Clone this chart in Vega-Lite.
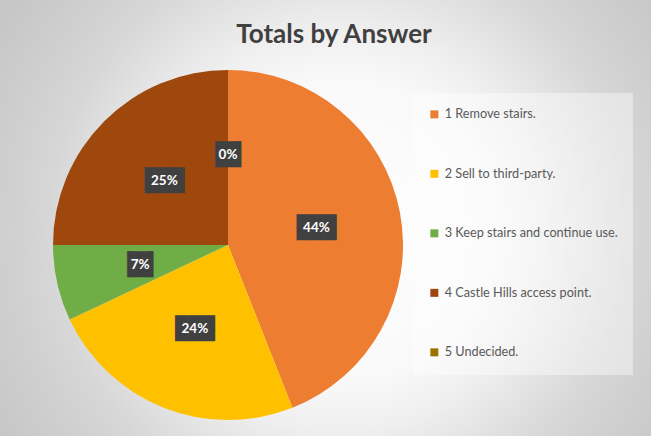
{
  "$schema": "https://vega.github.io/schema/vega-lite/v6.json",
  "width": 350,
  "height": 350,
  "autosize": "none",
  "padding": {"left": 53, "top": 70, "right": 248, "bottom": 16},
  "background": "#d2d2d2",
  "config": {"view": {"stroke": null}},
  "data": {
    "values": [
      {"answer": "1 Remove stairs.", "value": 0.44},
      {"answer": "2 Sell to third-party.", "value": 0.24},
      {"answer": "3 Keep stairs and continue use.", "value": 0.07},
      {"answer": "4 Castle Hills access point.", "value": 0.25},
      {"answer": "5 Undecided.", "value": 0.0}
    ]
  },
  "title": {
    "text": "Totals by Answer",
    "font": "Lato",
    "fontSize": 26,
    "fontWeight": "bold",
    "color": "#404040",
    "anchor": "middle",
    "frame": "group",
    "dx": 106,
    "offset": -324,
    "baseline": "alphabetic"
  },
  "layer": [
    {
      "mark": {
        "type": "arc",
        "outerRadius": 500,
        "theta": 0,
        "theta2": 6.2832,
        "fill": {
          "gradient": "radial",
          "x1": 0.612, "y1": 0.485, "r1": 0,
          "x2": 0.612, "y2": 0.485, "r2": 0.4,
          "stops": [
            {"offset": 0, "color": "#ffffff"},
            {"offset": 0.375, "color": "#f9f9f9"},
            {"offset": 0.5, "color": "#efefef"},
            {"offset": 0.725, "color": "#d7d7d7"},
            {"offset": 0.825, "color": "#d0d0d0"},
            {"offset": 1, "color": "#c6c6c6"}
          ]
        }
      },
      "encoding": {}
    },
    {
      "mark": {"type": "arc", "outerRadius": 175},
      "encoding": {
        "theta": {"field": "value", "type": "quantitative", "stack": true},
        "order": {"field": "answer", "type": "ordinal"},
        "color": {
          "field": "answer",
          "type": "nominal",
          "scale": {
            "domain": ["1 Remove stairs.", "2 Sell to third-party.", "3 Keep stairs and continue use.", "4 Castle Hills access point.", "5 Undecided."],
            "range": ["#ED7D31", "#FFC000", "#70AD47", "#9E480E", "#997300"]
          },
          "legend": {
            "orient": "none",
            "legendX": 360,
            "legendY": 23,
            "title": null,
            "symbolType": "square",
            "symbolSize": 64,
            "symbolStrokeWidth": 0,
            "labelFont": "Lato",
            "labelFontSize": 12.7,
            "labelColor": "#595959",
            "labelOffset": 4,
            "labelLimit": 300,
            "rowPadding": 45.5,
            "padding": 15,
            "fillColor": "rgba(255,255,255,0.4)"
          }
        }
      }
    },
    {
      "mark": {"type": "text", "radius": 90, "font": "DejaVu Sans Mono", "fontSize": 22, "color": "#404040", "baseline": "middle"},
      "encoding": {
        "theta": {"field": "value", "type": "quantitative", "stack": true},
        "order": {"field": "answer", "type": "ordinal"},
        "text": {"condition": {"test": "datum.value < 0.1", "value": "▐█▌"}, "value": "███"}
      }
    },
    {
      "mark": {"type": "text", "radius": 90, "font": "Lato", "fontWeight": "bold", "fontSize": 13.5, "color": "white", "baseline": "middle"},
      "encoding": {
        "theta": {"field": "value", "type": "quantitative", "stack": true},
        "order": {"field": "answer", "type": "ordinal"},
        "text": {"field": "value", "type": "quantitative", "format": ".0%"}
      }
    }
  ]
}
